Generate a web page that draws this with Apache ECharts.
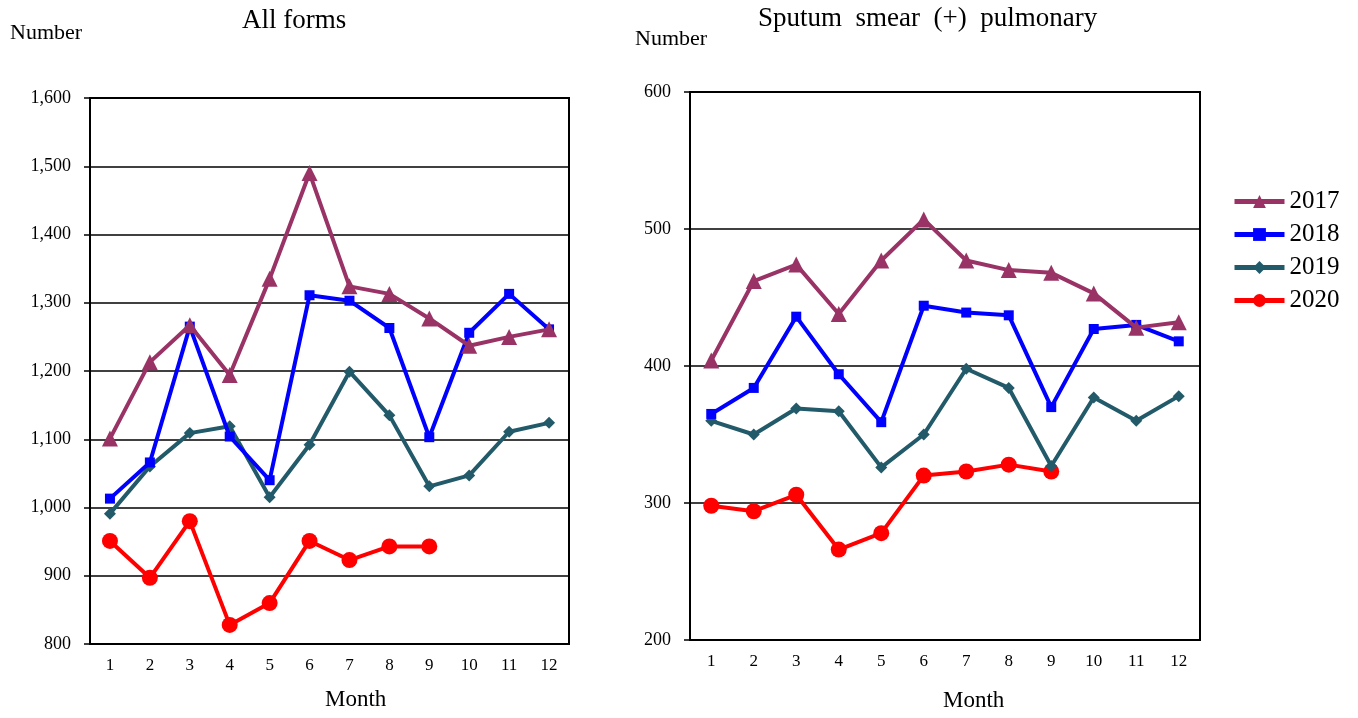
<!doctype html>
<html lang="en">
<head>
    <meta charset="UTF-8">
    <script src="https://cdn.jsdelivr.net/npm/echarts@6/dist/echarts.min.js"></script>
    <title>Monthly notifications</title>
    <style>
        html, body { margin: 0; padding: 0; background: #fff; }
    </style>
</head>
<body>
<div id="main" style="width: 1358px;height:718px;"></div>
</body>
<script>
    var months = ['1', '2', '3', '4', '5', '6', '7', '8', '9', '10', '11', '12'];
    var years = ['2017', '2018', '2019', '2020'];

    // All forms
    var all2017 = [1101, 1213, 1267, 1194, 1335, 1490, 1324, 1313, 1277, 1237, 1250, 1261];
    var all2018 = [1013, 1066, 1265, 1104, 1040, 1311, 1303, 1263, 1103, 1256, 1313, 1261];
    var all2019 = [991, 1060, 1109, 1119, 1015, 1092, 1199, 1135, 1031, 1047, 1111, 1124];
    var all2020 = [951, 897, 980, 828, 860, 951, 923, 943, 943];

    // Sputum smear (+) pulmonary
    var sp2017 = [404, 462, 474, 438, 477, 507, 477, 470, 468, 453, 428, 432];
    var sp2018 = [365, 384, 436, 394, 359, 444, 439, 437, 370, 427, 430, 418];
    var sp2019 = [360, 350, 369, 367, 326, 350, 398, 384, 327, 377, 360, 378];
    var sp2020 = [298, 294, 306, 266, 278, 320, 323, 328, 323];

    var colors = ['#993366', '#0000ff', '#225a6a', '#ff0000'];
    var symbols = ['triangle', 'rect', 'diamond', 'circle'];
    var symbolSizes = [16, 10, 12, 16];
    var serif = 'Liberation Serif';

    var myChart = echarts.init(document.getElementById('main'));

    function xAxisFor(idx) {
        return {
            type: 'category',
            gridIndex: idx,
            data: months,
            boundaryGap: true,
            axisLine: {lineStyle: {color: '#000', width: 2}},
            axisTick: {inside: true, length: 7, lineStyle: {color: '#000', width: 1.5}},
            axisLabel: {color: '#000', fontFamily: serif, fontSize: 17, margin: 13}
        };
    }

    function yAxisFor(idx, min, max, interval, fmt) {
        return {
            type: 'value',
            gridIndex: idx,
            min: min,
            max: max,
            interval: interval,
            axisLine: {show: true, lineStyle: {color: '#000', width: 2}},
            axisTick: {show: true, length: 6, lineStyle: {color: '#000', width: 1.5}},
            splitLine: {lineStyle: {color: '#000', width: 1.5}},
            axisLabel: {color: '#000', fontFamily: serif, fontSize: 18, margin: 19, formatter: fmt}
        };
    }

    function seriesFor(idx, datas) {
        return datas.map(function (d, i) {
            return {
                name: years[i],
                type: 'line',
                xAxisIndex: idx,
                yAxisIndex: idx,
                data: d,
                symbol: symbols[i],
                symbolSize: symbolSizes[i],
                showAllSymbol: true,
                color: colors[i],
                lineStyle: {color: colors[i], width: 4},
                itemStyle: {color: colors[i]},
                z: 10 - i
            };
        });
    }

    var series = seriesFor(0, [all2017, all2018, all2019, all2020])
        .concat(seriesFor(1, [sp2017, sp2018, sp2019, sp2020]));

    var option = {
        animation: false,
        textStyle: {fontFamily: serif},
        grid: [
            {left: 90, top: 98, width: 479, height: 546, show: true, borderColor: '#000', borderWidth: 2, containLabel: false},
            {left: 690, top: 92, width: 510, height: 548, show: true, borderColor: '#000', borderWidth: 2, containLabel: false}
        ],
        xAxis: [xAxisFor(0), xAxisFor(1)],
        yAxis: [
            yAxisFor(0, 800, 1600, 100, function (v) { return v.toLocaleString('en-US'); }),
            yAxisFor(1, 200, 600, 100, '{value}')
        ],
        legend: {
            data: years,
            orient: 'vertical',
            left: 1232,
            top: 189,
            padding: 0,
            itemWidth: 50,
            itemHeight: 16,
            itemGap: 8,
            lineStyle: {width: 5},
            textStyle: {fontFamily: serif, fontSize: 25, color: '#000'}
        },
        graphic: [
            {type: 'text', left: 242, top: 7, style: {text: 'All forms', font: '27px "Liberation Serif"', fill: '#000'}},
            {type: 'text', left: 758, top: 5, style: {text: 'Sputum  smear  (+)  pulmonary', font: '27px "Liberation Serif"', fill: '#000'}},
            {type: 'text', left: 10, top: 22, style: {text: 'Number', font: '22px "Liberation Serif"', fill: '#000'}},
            {type: 'text', left: 635, top: 28, style: {text: 'Number', font: '22px "Liberation Serif"', fill: '#000'}},
            {type: 'text', left: 325, top: 688, style: {text: 'Month', font: '23px "Liberation Serif"', fill: '#000'}},
            {type: 'text', left: 943, top: 689, style: {text: 'Month', font: '23px "Liberation Serif"', fill: '#000'}}
        ],
        series: series
    };

    myChart.setOption(option);
</script>
</html>
